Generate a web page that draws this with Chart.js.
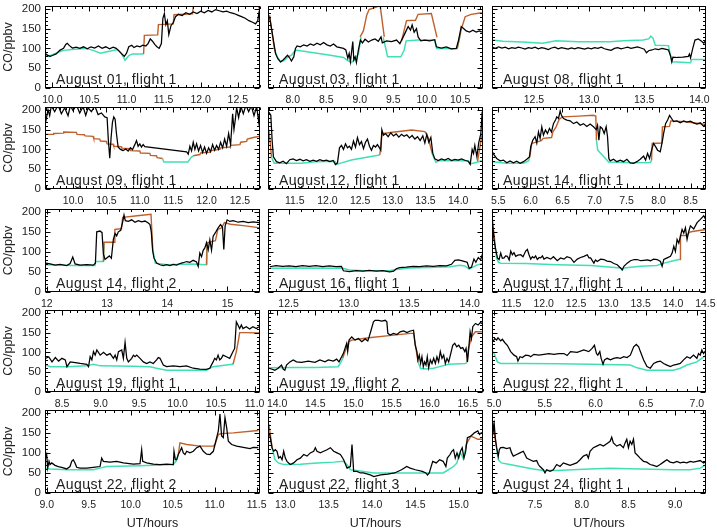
<!DOCTYPE html>
<html><head><meta charset="utf-8">
<script src="https://cdn.jsdelivr.net/npm/chart.js@4/dist/chart.umd.min.js"></script>
<style>
body{margin:0;background:#fff}
#wrap{position:relative;width:717px;height:531px;overflow:hidden;background:#fff}
#wrap canvas{position:absolute}
</style></head>
<body><div id="wrap"></div>
<script>
// ---------------- DATA ----------------
const panelLabels = ["August 01, flight 1","August 03, flight 1","August 08, flight 1",
  "August 09, flight 1","August 12, flight 1","August 14, flight 1",
  "August 14, flight 2","August 16, flight 1","August 17, flight 1",
  "August 19, flight 1","August 19, flight 2","August 22, flight 1",
  "August 22, flight 2","August 22, flight 3","August 24, flight 1"];
const xMin  = [9.9, 7.63, 12.12, 9.58, 11.09, 5.4, 11.97, 12.33, 11.2, 8.28, 13.88, 4.98, 8.98, 12.8, 7.04];
const xMax  = [12.8, 10.84, 14.06, 12.8, 14.38, 8.74, 15.54, 14.11, 14.51, 11.07, 16.7, 7.09, 11.54, 15.28, 9.33];
const xStep = [0.5, 0.5, 0.5, 0.5, 0.5, 0.5, 1, 0.5, 0.5, 0.5, 0.5, 0.5, 0.5, 0.5, 0.5];
const yTicks = [0, 50, 100, 150, 200];
const yTop = 207;

const obsAug01 = [[9.90,88],[9.93,83],[9.97,80],[10.00,82],[10.05,86],[10.10,95],[10.15,100],[10.18,110],[10.20,113],[10.23,107],[10.27,101],[10.32,103],[10.37,100],[10.42,104],[10.47,99],[10.52,104],[10.57,101],[10.62,106],[10.67,100],[10.72,104],[10.77,99],[10.82,103],[10.86,100],[10.90,93],[10.94,85],[10.97,80],[11.00,88],[11.03,104],[11.07,108],[11.10,102],[11.14,106],[11.18,104],[11.22,108],[11.26,106],[11.29,112],[11.32,124],[11.35,118],[11.38,110],[11.41,104],[11.44,100],[11.47,112],[11.49,176],[11.51,188],[11.53,160],[11.55,170],[11.57,135],[11.60,158],[11.63,165],[11.66,180],[11.70,186],[11.75,183],[11.80,190],[11.85,186],[11.90,192],[11.95,188],[12.00,194],[12.05,190],[12.10,196],[12.15,192],[12.20,198],[12.25,195],[12.30,192],[12.35,194],[12.40,190],[12.45,188],[12.50,184],[12.55,180],[12.60,176],[12.65,170],[12.70,166],[12.74,162],[12.77,170],[12.79,195]];
const modAug01 = [[11.23,86],[11.24,133],[11.42,134],[11.43,160],[11.63,162],[11.64,185],[11.89,187],[11.9,206],[12.78,206],[12.8,196]];
const bgAug01 = [[9.9,88],[9.95,80],[10.05,88],[10.15,95],[10.3,98],[10.45,100],[10.55,95],[10.65,88],[10.75,92],[10.88,97],[10.93,88],[10.98,70],[11.03,82],[11.08,86],[11.23,86]];

const obsAug03 = [[7.653,180],[7.683,150],[7.718,113],[7.743,87],[7.777,74],[7.817,66],[7.851,70],[7.891,77],[7.921,83],[7.95,77],[7.98,68],[8.015,79],[8.04,100],[8.064,106],[8.114,104],[8.163,109],[8.213,106],[8.262,111],[8.312,108],[8.361,113],[8.411,109],[8.46,115],[8.51,109],[8.559,106],[8.609,111],[8.658,104],[8.708,102],[8.757,100],[8.792,96],[8.822,75],[8.842,87],[8.861,66],[8.881,96],[8.896,117],[8.911,71],[8.931,79],[8.95,64],[8.98,96],[9.01,121],[9.04,114],[9.079,123],[9.129,116],[9.178,121],[9.228,124],[9.277,118],[9.317,129],[9.337,114],[9.401,119],[9.475,117],[9.55,121],[9.599,112],[9.649,129],[9.683,141],[9.723,155],[9.757,146],[9.782,159],[9.812,141],[9.847,150],[9.871,129],[9.911,119],[9.97,121],[10.045,119],[10.119,122],[10.144,104],[10.218,101],[10.292,104],[10.366,99],[10.441,100],[10.475,121],[10.515,155],[10.55,150],[10.589,144],[10.639,141],[10.688,146],[10.738,141],[10.787,144],[10.822,141]];
const modAug03 = [[7.653,184],[7.69,140],[7.72,105],[7.74,90],[7.745,null],[9.005,129],[9.054,144],[9.104,184],[9.139,198],[9.287,207],[9.307,205],[9.366,129],[9.37,null],[9.624,119],[9.698,170],[9.832,171],[9.871,186],[10.069,188],[10.153,128],[10.16,null],[10.455,100],[10.515,148],[10.574,180],[10.663,186],[10.822,190]];
const bgAug03 = [[7.74,90],[7.767,79],[7.817,66],[7.851,68],[7.891,72],[7.931,79],[7.98,83],[8.04,96],[8.188,92],[8.386,87],[8.584,82],[8.757,77],[8.822,69],[8.871,64],[8.931,72],[8.98,87],[9.02,129],[9.03,null],[9.35,128],[9.416,79],[9.614,79],[9.663,96],[9.693,119],[9.871,121],[10.119,121],[10.149,100],[10.455,99],[10.505,138]];

const obsAug08 = [[12.12,103],[12.15,100],[12.18,104],[12.21,101],[12.24,103],[12.27,99],[12.30,102],[12.33,100],[12.36,103],[12.39,101],[12.42,98],[12.45,102],[12.48,100],[12.51,103],[12.54,99],[12.57,102],[12.60,100],[12.63,97],[12.66,101],[12.69,103],[12.72,99],[12.75,102],[12.78,100],[12.81,98],[12.84,101],[12.87,99],[12.90,102],[12.93,100],[12.96,98],[12.99,101],[13.02,99],[13.05,102],[13.08,100],[13.11,103],[13.14,99],[13.17,97],[13.20,95],[13.23,100],[13.26,102],[13.29,99],[13.32,101],[13.35,103],[13.38,100],[13.41,102],[13.44,104],[13.47,101],[13.50,98],[13.52,89],[13.54,94],[13.57,96],[13.60,99],[13.63,97],[13.66,100],[13.69,98],[13.72,96],[13.74,80],[13.75,66],[13.76,78],[13.80,77],[13.85,78],[13.90,80],[13.91,86],[13.92,76],[13.94,100],[13.96,121],[13.99,124],[14.02,118],[14.04,113],[14.06,122]];
const modAug08 = [];
const bgAug08 = [[12.12,121],[12.22,118],[12.4,116],[12.58,113],[12.65,117],[12.7,119],[12.9,117],[13.19,117],[13.31,119],[13.49,121],[13.54,124],[13.56,131],[13.58,126],[13.6,108],[13.72,107],[13.75,66],[13.92,64],[13.93,72],[14.06,72]];

const obsAug09 = [[9.585,165],[9.625,200],[9.65,185],[9.675,210],[9.725,195],[9.775,212],[9.825,190],[9.875,205],[9.925,185],[9.96,210],[10.0,198],[10.05,212],[10.1,192],[10.15,208],[10.19,186],[10.225,205],[10.275,195],[10.325,210],[10.375,188],[10.425,192],[10.475,182],[10.51,180],[10.53,120],[10.55,78],[10.57,130],[10.59,168],[10.61,182],[10.63,176],[10.65,140],[10.675,106],[10.71,100],[10.75,97],[10.79,101],[10.825,96],[10.86,104],[10.89,99],[10.925,112],[10.95,122],[10.975,108],[11.0,114],[11.025,106],[11.05,112],[11.075,107],[11.7,94],[11.725,88],[11.75,108],[11.775,96],[11.8,118],[11.825,100],[11.85,114],[11.88,96],[11.91,110],[11.94,92],[11.97,106],[12.0,90],[12.03,104],[12.06,94],[12.09,112],[12.12,98],[12.15,110],[12.18,100],[12.21,118],[12.24,104],[12.27,126],[12.3,108],[12.33,140],[12.36,112],[12.39,190],[12.41,150],[12.43,175],[12.45,205],[12.48,180],[12.51,210],[12.55,190],[12.59,212],[12.63,195],[12.67,210],[12.71,185],[12.75,208],[12.78,170],[12.8,200]];
const modAug09 = [[9.585,138],[9.70,138],[9.71,140],[9.85,141],[9.86,144],[10.05,143],[10.06,138],[10.17,137],[10.18,134],[10.30,133],[10.31,127],[10.40,126],[10.41,121],[10.50,120],[10.51,114],[10.60,113],[10.61,108],[10.72,107],[10.73,103],[10.85,102],[10.86,97],[11.0,96],[11.01,91],[11.15,90],[11.16,85],[11.25,84],[11.26,79],[11.34,77],[11.345,null],[11.8,84],[11.9,87],[11.91,91],[12.05,93],[12.06,97],[12.2,100],[12.21,104],[12.35,106],[12.36,110],[12.5,112],[12.51,118],[12.6,120],[12.61,126],[12.7,130],[12.8,133]];
const bgAug09 = [[11.34,77],[11.36,68],[11.5,68],[11.72,68],[11.77,80],[11.8,84]];

const obsAug12 = [[11.102,194],[11.133,186],[11.153,123],[11.173,81],[11.219,69],[11.27,66],[11.321,70],[11.372,64],[11.423,74],[11.474,76],[11.526,72],[11.577,75],[11.628,71],[11.679,74],[11.73,70],[11.781,73],[11.832,70],[11.883,74],[11.934,71],[11.985,73],[12.036,69],[12.087,72],[12.122,62],[12.153,66],[12.184,104],[12.214,110],[12.245,100],[12.276,114],[12.306,104],[12.337,108],[12.367,100],[12.398,121],[12.429,106],[12.459,130],[12.49,112],[12.52,120],[12.551,102],[12.582,118],[12.612,126],[12.643,108],[12.673,98],[12.704,110],[12.735,106],[12.765,112],[12.796,104],[12.816,98],[12.832,150],[12.857,136],[12.888,140],[12.929,132],[12.969,142],[13.01,134],[13.051,139],[13.092,131],[13.133,138],[13.173,133],[13.214,137],[13.255,129],[13.296,135],[13.337,126],[13.378,132],[13.418,122],[13.459,134],[13.49,116],[13.52,138],[13.551,118],[13.582,130],[13.612,90],[13.643,76],[13.694,72],[13.745,76],[13.796,73],[13.847,77],[13.898,72],[13.949,75],[14.0,73],[14.051,76],[14.112,72],[14.153,70],[14.184,62],[14.214,100],[14.235,90],[14.255,110],[14.286,82],[14.316,118],[14.347,140],[14.367,195]];
const modAug12 = [[11.102,150],[11.122,120],[11.143,81],[11.15,null],[12.801,86],[12.837,140],[13.03,144],[13.286,149],[13.49,145],[13.541,130],[13.602,90],[13.61,null],[14.296,70],[14.337,110],[14.367,140]];
const bgAug12 = [[11.143,81],[11.184,65],[11.602,65],[11.806,69],[12.112,70],[12.138,62],[12.214,66],[12.367,73],[12.622,81],[12.801,86],[12.81,null],[13.6,90],[13.66,67],[13.7,71],[14.15,71],[14.2,64],[14.3,68],[14.36,72]];

const obsAug14a = [[5.406,94],[5.432,86],[5.474,77],[5.526,71],[5.578,73],[5.63,66],[5.682,71],[5.734,66],[5.786,70],[5.839,65],[5.891,69],[5.943,75],[5.984,81],[6.005,107],[6.036,123],[6.073,132],[6.099,116],[6.125,144],[6.151,128],[6.177,157],[6.203,136],[6.234,149],[6.266,140],[6.297,153],[6.328,144],[6.359,165],[6.391,174],[6.411,182],[6.438,178],[6.464,197],[6.484,186],[6.516,178],[6.568,174],[6.62,172],[6.672,165],[6.724,169],[6.776,161],[6.828,165],[6.88,158],[6.932,164],[6.984,157],[7.026,150],[7.047,161],[7.068,123],[7.089,157],[7.12,153],[7.151,140],[7.182,157],[7.203,132],[7.224,77],[7.245,71],[7.297,75],[7.349,69],[7.401,73],[7.453,69],[7.505,75],[7.557,66],[7.609,65],[7.661,69],[7.714,75],[7.766,83],[7.797,73],[7.828,90],[7.859,77],[7.891,98],[7.922,115],[7.953,107],[7.984,98],[8.026,94],[8.057,119],[8.078,140],[8.109,165],[8.141,174],[8.172,186],[8.203,178],[8.234,170],[8.286,172],[8.339,167],[8.391,172],[8.443,169],[8.495,171],[8.547,167],[8.599,164],[8.651,167],[8.703,158],[8.734,164]];
const modAug14a = [[5.99,81],[6.02,115],[6.17,122],[6.2,128],[6.33,130],[6.35,144],[6.4,157],[6.45,176],[6.5,182],[6.75,184],[6.98,186],[7.02,184],[7.03,123],[7.035,null],[7.89,72],[7.9,115],[8.05,116],[8.06,157],[8.17,158],[8.19,172],[8.4,170],[8.6,166],[8.74,163]];
const bgAug14a = [[5.406,69],[5.52,67],[5.63,65],[5.89,65],[5.97,71],[5.99,81],[5.995,null],[7.03,123],[7.05,98],[7.2,72],[7.22,68],[7.6,66],[7.87,67],[7.89,72]];

const obsAug14b = [[11.983,72],[12.055,70],[12.138,67],[12.221,69],[12.331,66],[12.387,71],[12.431,87],[12.47,70],[12.552,67],[12.663,68],[12.773,67],[12.807,72],[12.829,150],[12.884,152],[12.917,148],[12.939,95],[12.967,81],[13.006,86],[13.039,90],[13.072,84],[13.105,131],[13.133,146],[13.16,140],[13.188,150],[13.227,154],[13.26,175],[13.282,192],[13.304,178],[13.354,176],[13.409,180],[13.464,174],[13.519,178],[13.575,175],[13.63,177],[13.685,172],[13.713,168],[13.735,150],[13.757,104],[13.779,85],[13.823,72],[13.878,68],[13.934,66],[13.989,68],[14.044,66],[14.099,69],[14.155,67],[14.21,71],[14.265,73],[14.32,76],[14.376,74],[14.431,79],[14.486,75],[14.514,64],[14.541,97],[14.569,88],[14.597,104],[14.624,110],[14.652,123],[14.68,105],[14.707,130],[14.735,104],[14.762,139],[14.807,150],[14.845,160],[14.884,168],[14.917,162],[14.939,106],[14.961,165],[14.994,180],[15.039,176],[15.094,178],[15.177,174],[15.26,176],[15.343,173],[15.425,175],[15.525,173]];
const modAug14b = [[12.94,76],[12.95,124],[13.12,124],[13.13,156],[13.24,158],[13.26,186],[13.5,190],[13.73,194],[13.76,106],[13.77,null],[14.655,68],[14.66,123],[14.8,128],[14.84,156],[14.9,160],[14.95,173],[15.05,169],[15.3,165],[15.54,160]];
const bgAug14b = [[11.98,68],[12.3,67],[12.45,66],[12.8,66],[12.81,76],[12.94,76],[12.95,124],[12.96,null],[13.76,106],[13.8,72],[14.0,68],[14.4,70],[14.65,68],[14.66,123]];

const obsAug16 = [[12.345,63],[12.395,66],[12.45,64],[12.506,65],[12.561,63],[12.616,66],[12.672,64],[12.727,66],[12.783,63],[12.838,65],[12.893,63],[12.938,64],[12.954,53],[13.004,51],[13.06,53],[13.115,52],[13.17,54],[13.226,52],[13.281,53],[13.337,50],[13.37,52],[13.392,58],[13.42,61],[13.475,62],[13.53,64],[13.586,63],[13.641,65],[13.697,64],[13.752,66],[13.808,65],[13.849,69],[13.877,79],[13.905,80],[13.932,78],[13.96,76],[13.979,74],[13.996,59],[14.015,62],[14.035,82],[14.051,74],[14.071,86],[14.09,80],[14.107,96]];
const modAug16 = [];
const bgAug16 = [[12.345,59],[12.616,60],[12.949,59],[13.004,55],[13.115,53],[13.337,53],[13.392,56],[13.503,60],[13.669,61],[13.835,63],[13.918,67],[13.96,65],[13.996,57],[14.057,67],[14.112,71]];

const obsAug17 = [[11.207,170],[11.22,150],[11.232,130],[11.258,106],[11.284,85],[11.31,81],[11.335,97],[11.36,84],[11.387,85],[11.41,90],[11.438,89],[11.465,80],[11.49,102],[11.515,93],[11.54,98],[11.567,89],[11.6,92],[11.644,93],[11.68,88],[11.721,102],[11.747,106],[11.773,93],[11.799,82],[11.825,88],[11.85,85],[11.875,90],[11.901,81],[11.93,86],[11.953,85],[11.98,90],[12.004,82],[12.05,86],[12.107,82],[12.15,88],[12.21,78],[12.26,85],[12.313,82],[12.36,88],[12.416,85],[12.468,74],[12.519,82],[12.57,86],[12.622,89],[12.673,93],[12.7,85],[12.725,85],[12.776,72],[12.8,80],[12.828,76],[12.88,82],[12.931,81],[12.98,77],[13.034,76],[13.085,71],[13.137,68],[13.188,60],[13.214,55],[13.24,64],[13.291,72],[13.342,78],[13.4,81],[13.445,81],[13.5,78],[13.548,79],[13.6,80],[13.651,78],[13.7,82],[13.754,81],[13.806,76],[13.831,64],[13.857,81],[13.909,85],[13.96,89],[13.986,97],[14.012,114],[14.037,101],[14.063,131],[14.089,122],[14.115,139],[14.14,156],[14.166,147],[14.192,160],[14.217,131],[14.243,151],[14.269,165],[14.32,157],[14.372,173],[14.423,181],[14.475,190],[14.49,186],[14.516,177]];
const modAug17 = [[11.207,181],[11.22,160],[11.235,140],[11.25,110],[11.255,null],[14.11,81],[14.115,141],[14.217,141],[14.25,149],[14.3,151],[14.516,156]];
const bgAug17 = [[11.25,110],[11.27,85],[11.3,74],[11.335,72],[11.72,71],[12.21,68],[12.73,66],[13.19,60],[13.214,55],[13.24,60],[13.5,64],[13.75,66],[13.86,72],[13.96,76],[14.09,81],[14.11,81]];

const obsAug19a = [[8.293,85],[8.328,89],[8.371,76],[8.414,87],[8.457,78],[8.5,85],[8.543,81],[8.565,64],[8.608,76],[8.651,75],[8.737,72],[8.823,70],[8.845,64],[8.866,89],[8.888,81],[8.909,102],[8.931,93],[8.953,106],[8.996,93],[9.039,100],[9.082,93],[9.125,97],[9.168,85],[9.19,93],[9.211,81],[9.233,102],[9.276,106],[9.297,85],[9.319,125],[9.341,85],[9.362,76],[9.405,85],[9.427,93],[9.448,89],[9.47,93],[9.513,85],[9.556,76],[9.599,72],[9.642,76],[9.685,72],[9.728,81],[9.75,87],[9.772,85],[9.815,68],[9.858,64],[9.944,66],[10.03,64],[10.116,66],[10.203,60],[10.289,58],[10.375,57],[10.418,60],[10.461,76],[10.483,85],[10.504,81],[10.526,93],[10.547,81],[10.569,85],[10.591,93],[10.634,89],[10.677,85],[10.72,102],[10.741,110],[10.763,177],[10.784,169],[10.806,160],[10.828,169],[10.849,160],[10.892,165],[10.935,159],[10.978,165],[11.022,160],[11.056,165]];
const modAug19a = [[10.72,70],[10.763,102],[10.79,130],[10.806,150],[10.9,150],[11.06,149]];
const bgAug19a = [[8.293,68],[8.35,64],[8.565,64],[8.823,66],[8.909,70],[8.996,66],[9.427,65],[9.642,64],[9.728,60],[9.858,55],[10.116,55],[10.375,55],[10.461,64],[10.634,68],[10.72,70]];

const obsAug19b = [[13.89,60],[13.925,58],[13.969,55],[14.013,60],[14.057,68],[14.079,58],[14.101,55],[14.123,68],[14.167,76],[14.211,81],[14.254,76],[14.32,75],[14.408,78],[14.496,75],[14.561,81],[14.627,76],[14.671,81],[14.737,78],[14.781,83],[14.811,76],[14.846,89],[14.868,97],[14.89,110],[14.912,123],[14.925,102],[14.943,131],[14.978,139],[15.022,131],[15.066,135],[15.11,127],[15.154,134],[15.189,129],[15.206,139],[15.232,156],[15.263,177],[15.285,181],[15.329,181],[15.373,179],[15.417,181],[15.439,177],[15.452,148],[15.482,144],[15.526,148],[15.57,145],[15.614,152],[15.658,154],[15.702,150],[15.746,154],[15.789,156],[15.811,118],[15.833,102],[15.846,81],[15.864,93],[15.882,72],[15.899,89],[15.917,64],[15.934,76],[15.952,68],[15.969,89],[15.987,61],[16.009,81],[16.031,72],[16.053,85],[16.075,72],[16.096,89],[16.118,76],[16.14,102],[16.162,85],[16.184,93],[16.206,72],[16.228,85],[16.25,76],[16.272,93],[16.303,118],[16.329,123],[16.355,114],[16.382,118],[16.408,110],[16.434,112],[16.461,102],[16.478,110],[16.496,76],[16.513,110],[16.531,152],[16.548,135],[16.566,165],[16.601,173],[16.636,169],[16.667,176],[16.697,171]];
const modAug19b = [[14.86,85],[14.89,102],[14.94,127],[14.98,131],[15.2,137],[15.5,143],[15.75,148],[15.79,148],[15.82,110],[15.85,75],[15.86,null],[16.49,75],[16.51,110],[16.55,139],[16.6,152],[16.7,152]];
const bgAug19b = [[13.89,61],[14.2,62],[14.5,62],[14.8,64],[14.82,70],[14.86,85],[14.87,null],[15.85,75],[15.88,60],[15.95,58],[16.05,60],[16.13,64],[16.25,70],[16.47,72],[16.49,75]];

const obsAug22a = [[4.99,127],[5.007,135],[5.026,131],[5.039,137],[5.066,129],[5.082,133],[5.105,125],[5.131,118],[5.148,110],[5.164,102],[5.197,93],[5.223,89],[5.236,78],[5.256,89],[5.279,87],[5.311,93],[5.344,92],[5.361,89],[5.393,95],[5.443,93],[5.492,95],[5.541,97],[5.59,95],[5.639,97],[5.689,97],[5.721,92],[5.754,102],[5.82,100],[5.885,106],[5.934,102],[5.967,110],[5.99,118],[6.01,97],[6.023,93],[6.043,102],[6.056,85],[6.075,70],[6.089,81],[6.115,85],[6.148,81],[6.18,85],[6.213,87],[6.246,85],[6.279,89],[6.311,87],[6.344,93],[6.377,114],[6.403,120],[6.426,114],[6.443,102],[6.475,81],[6.508,64],[6.541,60],[6.574,72],[6.607,76],[6.639,78],[6.672,72],[6.705,68],[6.738,64],[6.77,68],[6.803,70],[6.836,72],[6.869,81],[6.902,89],[6.934,85],[6.967,93],[7.0,85],[7.016,97],[7.033,93],[7.049,106],[7.066,97],[7.082,103],[7.092,102]];
const modAug22a = [];
const bgAug22a = [[4.99,102],[5.007,93],[5.033,76],[5.066,72],[5.295,72],[5.623,71],[5.951,70],[6.344,68],[6.41,61],[6.508,55],[6.77,55],[6.836,60],[6.902,68],[7.0,76],[7.092,93]];

const obsAug22b = [[8.988,87],[9.0,96],[9.012,62],[9.028,79],[9.04,71],[9.06,75],[9.099,69],[9.139,66],[9.179,64],[9.238,60],[9.278,66],[9.298,79],[9.317,83],[9.337,75],[9.357,64],[9.397,62],[9.476,62],[9.556,64],[9.635,66],[9.655,87],[9.675,79],[9.754,77],[9.833,79],[9.913,75],[10.032,72],[10.111,73],[10.131,108],[10.143,79],[10.19,75],[10.27,72],[10.349,71],[10.429,72],[10.508,71],[10.516,104],[10.532,83],[10.548,83],[10.567,96],[10.587,104],[10.607,113],[10.627,100],[10.647,96],[10.667,104],[10.706,100],[10.746,104],[10.786,113],[10.825,117],[10.865,104],[10.905,97],[10.944,96],[10.984,104],[11.004,121],[11.024,138],[11.044,155],[11.063,197],[11.083,142],[11.103,138],[11.123,188],[11.143,163],[11.163,129],[11.202,121],[11.262,117],[11.341,114],[11.421,111],[11.46,114],[11.52,113]];
const modAug22b = [[10.567,96],[10.587,125],[10.667,121],[10.825,117],[10.984,117],[11.004,121],[11.044,146],[11.083,148],[11.222,150],[11.52,156]];
const bgAug22b = [[8.988,62],[9.04,60],[9.238,58],[9.556,58],[9.635,62],[9.714,66],[10.111,68],[10.508,71],[10.54,79],[10.567,96]];

const obsAug22c = [[12.815,150],[12.827,138],[12.846,113],[12.865,104],[12.885,108],[12.904,104],[12.923,87],[12.942,91],[12.962,83],[12.981,104],[13.0,87],[13.019,79],[13.038,75],[13.058,71],[13.096,75],[13.135,83],[13.173,87],[13.212,96],[13.25,92],[13.288,100],[13.327,104],[13.346,113],[13.365,104],[13.404,100],[13.442,104],[13.481,108],[13.519,113],[13.558,104],[13.596,100],[13.635,96],[13.673,83],[13.712,62],[13.75,66],[13.769,121],[13.788,54],[13.827,54],[13.865,50],[13.9,50],[13.98,45],[14.02,41],[14.1,45],[14.18,47],[14.26,50],[14.34,58],[14.4,66],[14.44,62],[14.5,58],[14.58,54],[14.62,50],[14.64,45],[14.66,50],[14.7,79],[14.74,75],[14.78,83],[14.82,79],[14.852,66],[14.868,87],[14.9,96],[14.92,104],[14.94,108],[14.96,87],[14.98,100],[15.0,87],[15.02,104],[15.04,113],[15.06,87],[15.08,104],[15.1,138],[15.14,142],[15.16,146],[15.18,150],[15.22,155],[15.24,146],[15.26,150],[15.284,146]];
const modAug22c = [[12.81,171],[12.83,140],[12.85,110],[12.86,null],[15.08,110],[15.085,121],[15.14,142],[15.18,138],[15.22,134],[15.28,134]];
const bgAug22c = [[12.85,110],[12.88,83],[12.92,75],[12.98,71],[13.17,72],[13.37,75],[13.56,77],[13.67,79],[13.71,71],[13.75,58],[13.86,55],[14.02,50],[14.18,50],[14.58,50],[14.82,50],[14.88,58],[14.94,66],[14.98,75],[15.0,96],[15.02,100],[15.05,87],[15.08,110]];

const obsAug24 = [[7.043,184],[7.054,155],[7.064,171],[7.075,138],[7.089,113],[7.107,92],[7.118,108],[7.132,113],[7.161,114],[7.196,111],[7.232,113],[7.25,100],[7.268,92],[7.304,96],[7.339,100],[7.375,104],[7.393,96],[7.411,87],[7.446,83],[7.482,79],[7.518,81],[7.536,71],[7.554,66],[7.589,58],[7.607,50],[7.625,58],[7.661,54],[7.696,58],[7.732,71],[7.768,66],[7.804,75],[7.839,72],[7.875,69],[7.911,72],[7.946,75],[7.982,83],[8.018,92],[8.054,96],[8.071,87],[8.089,104],[8.125,113],[8.161,117],[8.196,121],[8.232,117],[8.268,123],[8.304,129],[8.321,139],[8.339,125],[8.375,117],[8.411,121],[8.446,113],[8.464,125],[8.482,134],[8.5,113],[8.518,129],[8.536,121],[8.554,134],[8.571,100],[8.589,96],[8.625,87],[8.661,79],[8.696,77],[8.732,71],[8.768,69],[8.804,66],[8.839,71],[8.875,77],[8.911,83],[8.946,77],[8.982,75],[9.018,79],[9.054,75],[9.089,77],[9.125,75],[9.161,79],[9.196,77],[9.232,79],[9.268,81],[9.304,75],[9.332,79]];
const modAug24 = [[7.043,184],[7.06,160],[7.08,125],[7.09,113]];
const bgAug24 = [[7.09,113],[7.107,83],[7.14,75],[7.23,71],[7.34,66],[7.48,60],[7.59,56],[7.73,56],[8.02,59],[8.3,62],[8.63,60],[8.98,58],[9.16,58],[9.27,62],[9.33,71]];

const obsSeries = [obsAug01,obsAug03,obsAug08,obsAug09,obsAug12,obsAug14a,obsAug14b,obsAug16,obsAug17,obsAug19a,obsAug19b,obsAug22a,obsAug22b,obsAug22c,obsAug24];
const modSeries = [modAug01,modAug03,modAug08,modAug09,modAug12,modAug14a,modAug14b,modAug16,modAug17,modAug19a,modAug19b,modAug22a,modAug22b,modAug22c,modAug24];
const bgSeries  = [bgAug01,bgAug03,bgAug08,bgAug09,bgAug12,bgAug14a,bgAug14b,bgAug16,bgAug17,bgAug19a,bgAug19b,bgAug22a,bgAug22b,bgAug22c,bgAug24];

// ---------------- LAYOUT / STYLE ----------------
const COL_LEFT = [45, 268, 492], COL_W = [215, 215, 214];
const ROW_TOP = [6, 107, 209, 310, 410], ROW_H = [82, 82, 83, 82, 83];
const TXT = '#222', BROWN = '#c0602c', CYAN = '#40e0b4';
const FONT = '"Liberation Sans", Arial, sans-serif';

const idlFrame = {
  id: 'idlFrame',
  afterDatasetsDraw(chart, args, o) {
    const {ctx, chartArea: a, scales: {x, y}} = chart;
    ctx.save();
    ctx.strokeStyle = '#000'; ctx.lineWidth = 1;
    const L = Math.round(a.left) + 0.5, R = Math.round(a.right) - 0.5;
    const T = Math.round(a.top) + 0.5, B = Math.round(a.bottom) - 0.5;
    ctx.strokeRect(L, T, R - L, B - T);
    ctx.beginPath();
    const mx = o.xStep / 5;
    for (let k = Math.ceil(x.min / mx - 1e-9); k * mx <= x.max + 1e-9; k++) {
      const v = k * mx, major = Math.abs(v / o.xStep - Math.round(v / o.xStep)) < 1e-6;
      const len = major ? 5 : 2.5, p = Math.round(x.getPixelForValue(v)) + 0.5;
      ctx.moveTo(p, B); ctx.lineTo(p, B - len);
      ctx.moveTo(p, T); ctx.lineTo(p, T + len);
    }
    for (let v = 0; v <= y.max; v += 10) {
      const major = v % 50 === 0, len = major ? 5 : 2.5, p = Math.round(y.getPixelForValue(v)) + 0.5;
      ctx.moveTo(L, p); ctx.lineTo(L + len, p);
      ctx.moveTo(R, p); ctx.lineTo(R - len, p);
    }
    ctx.stroke();
    ctx.fillStyle = TXT;
    ctx.font = '14px ' + FONT;
    ctx.letterSpacing = '0.45px';
    ctx.textBaseline = 'alphabetic'; ctx.textAlign = 'left';
    ctx.fillText(o.label, a.left + 11, a.bottom - 4);
    ctx.restore();
  }
};

const wrap = document.getElementById('wrap');
for (let i = 0; i < 15; i++) {
  const r = Math.floor(i / 3), c = i % 3;
  const padL = c === 0 ? 0 : 10, yW = c === 0 ? 45 : 0, padR = 10, padT = 6;
  const B = r === 4 ? 38 : 18;
  const left = COL_LEFT[c] - padL - yW, top = ROW_TOP[r] - padT;
  const W = padL + yW + COL_W[c] + padR, H = padT + ROW_H[r] + B;
  const cv = document.createElement('canvas');
  cv.width = W; cv.height = H;
  cv.style.left = left + 'px'; cv.style.top = top + 'px';
  cv.style.width = W + 'px'; cv.style.height = H + 'px';
  wrap.appendChild(cv);
  const dec = xStep[i] >= 1 ? 0 : 1;
  new Chart(cv, {
    type: 'line',
    data: { datasets: [
      { data: obsSeries[i], borderColor: '#000', borderWidth: 1.25 },
      { data: modSeries[i], borderColor: BROWN, borderWidth: 1.4 },
      { data: bgSeries[i], borderColor: CYAN, borderWidth: 1.5 }
    ]},
    options: {
      animation: false, responsive: false, devicePixelRatio: 1,
      elements: { point: { radius: 0 }, line: { tension: 0 } },
      spanGaps: false,
      events: [],
      layout: { autoPadding: false, padding: { left: padL, right: padR, top: padT, bottom: 0 } },
      plugins: { legend: { display: false }, tooltip: { enabled: false },
        idlFrame: { label: panelLabels[i], xStep: xStep[i] } },
      scales: {
        x: {
          type: 'linear', min: xMin[i], max: xMax[i],
          grid: { display: false, drawTicks: false }, border: { display: false },
          ticks: { stepSize: xStep[i], includeBounds: false, autoSkip: false, maxRotation: 0,
            padding: 6, color: TXT, font: { family: FONT, size: 10.5 },
            callback: v => Number(v).toFixed(dec) },
          title: { display: r === 4, text: 'UT/hours', color: TXT, font: { family: FONT, size: 12.5 },
            padding: { top: 0, bottom: 0 } },
          afterFit: s => { s.height = B; s.paddingLeft = 0; s.paddingRight = 0; }
        },
        y: {
          type: 'linear', min: 0, max: yTop, display: c === 0,
          grid: { display: false, drawTicks: false }, border: { display: false },
          afterBuildTicks: s => { s.ticks = yTicks.map(v => ({ value: v })); },
          ticks: { padding: 4, color: TXT, font: { family: FONT, size: 11.5 } },
          title: { display: c === 0, text: 'CO/ppbv', color: TXT, font: { family: FONT, size: 12.5 },
            padding: { top: 1, bottom: 0 } },
          afterFit: s => { s.width = yW; s.paddingTop = 0; s.paddingBottom = 0; }
        }
      }
    },
    plugins: [idlFrame]
  });
}
</script></body></html>
